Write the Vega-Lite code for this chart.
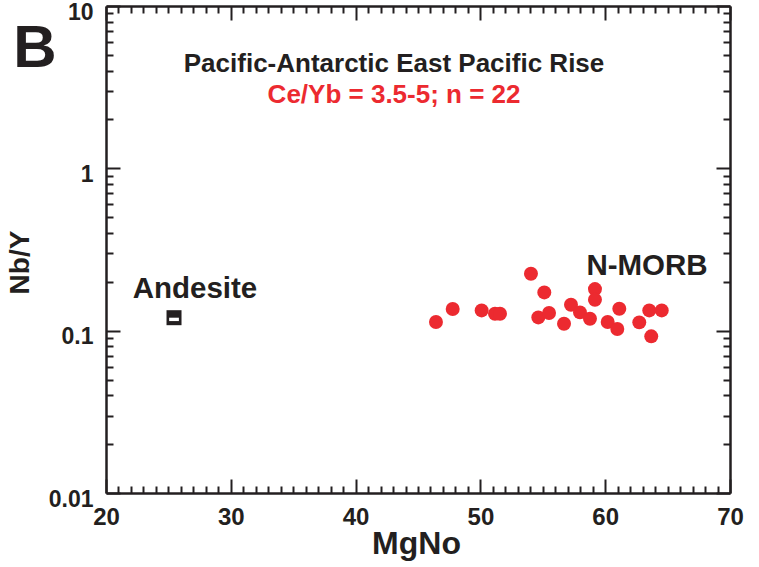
{
  "$schema": "https://vega.github.io/schema/vega-lite/v6.json",
  "width": 624,
  "height": 487,
  "autosize": {"type": "none"},
  "padding": {"left": 106, "top": 6, "right": 29, "bottom": 74},
  "background": "white",
  "config": {
    "view": {"stroke": null},
    "font": "Liberation Sans",
    "axis": {"domainColor": "#231f20", "tickColor": "#231f20", "labelColor": "#231f20", "titleColor": "#231f20", "grid": false, "labelFont": "Liberation Sans", "titleFont": "Liberation Sans"}
  },
  "datasets": {
    "morb": [
      {"MgNo": 46.44, "NbY": 0.1131},
      {"MgNo": 47.78, "NbY": 0.1360},
      {"MgNo": 50.10, "NbY": 0.1333},
      {"MgNo": 51.17, "NbY": 0.1272},
      {"MgNo": 51.57, "NbY": 0.1272},
      {"MgNo": 54.05, "NbY": 0.2240},
      {"MgNo": 55.12, "NbY": 0.1720},
      {"MgNo": 54.64, "NbY": 0.1207},
      {"MgNo": 55.50, "NbY": 0.1285},
      {"MgNo": 56.70, "NbY": 0.1104},
      {"MgNo": 57.26, "NbY": 0.1444},
      {"MgNo": 57.98, "NbY": 0.1296},
      {"MgNo": 58.78, "NbY": 0.1185},
      {"MgNo": 59.18, "NbY": 0.1804},
      {"MgNo": 59.18, "NbY": 0.1550},
      {"MgNo": 60.20, "NbY": 0.1131},
      {"MgNo": 60.97, "NbY": 0.1024},
      {"MgNo": 61.13, "NbY": 0.1365},
      {"MgNo": 62.73, "NbY": 0.1125},
      {"MgNo": 63.53, "NbY": 0.1333},
      {"MgNo": 63.69, "NbY": 0.0923},
      {"MgNo": 64.53, "NbY": 0.1333}
    ],
    "andesite": [{"MgNo": 25.45, "NbY": 0.1202}]
  },
  "resolve": {"axis": {"x": "independent", "y": "independent"}},
  "layer": [
    {
      "data": {"name": "morb"},
      "mark": {"type": "circle", "size": 195, "opacity": 1, "color": "#ec2a30"},
      "encoding": {
        "x": {"field": "MgNo", "type": "quantitative", "scale": {"domain": [20, 70], "nice": false, "zero": false},
          "axis": {"orient": "bottom", "values": [20, 30, 40, 50, 60, 70], "tickSize": -14, "tickWidth": 2, "domainWidth": 2.5, "labelPadding": 26, "labelFontSize": 24, "labelFontWeight": "bold", "labelFlush": false, "labelOverlap": false, "title": "MgNo", "titleFontSize": 32, "titleFontWeight": "bold", "titleY": 60, "titleX": 310, "titleBaseline": "alphabetic"}},
        "y": {"field": "NbY", "type": "quantitative", "scale": {"type": "log", "domain": [0.01, 10], "nice": false},
          "axis": {"orient": "left", "values": [0.01, 0.1, 1, 10], "labelExpr": "datum.value == 0.01 ? '0.01' : datum.value == 0.1 ? '0.1' : datum.value == 1 ? '1' : '10'", "tickSize": -14, "tickWidth": 2, "domainWidth": 2.5, "labelPadding": 27, "labelOffset": 6, "labelFontSize": 23, "labelFontWeight": "bold", "labelFlush": false, "labelOverlap": false, "title": "Nb/Y", "titleFontSize": 28, "titleFontWeight": "bold", "titleAngle": -90, "titleX": -86, "titleY": 256, "titleAlign": "center", "titleBaseline": "middle"}}
      }
    },
    {
      "data": {"name": "andesite"},
      "mark": {"type": "point", "shape": "square", "size": 225, "filled": true, "opacity": 1, "color": "#231f20"},
      "encoding": {
        "x": {"field": "MgNo", "type": "quantitative", "axis": null},
        "y": {"field": "NbY", "type": "quantitative", "axis": null}
      }
    },
    {
      "data": {"name": "andesite"},
      "mark": {"type": "point", "shape": "M-0.65,0.0H0.65V0.45H-0.65Z", "size": 225, "filled": true, "opacity": 1, "color": "white"},
      "encoding": {
        "x": {"field": "MgNo", "type": "quantitative", "axis": null},
        "y": {"field": "NbY", "type": "quantitative", "axis": null}
      }
    },
    {
      "data": {"name": "morb"},
      "mark": {"type": "point", "opacity": 0},
      "encoding": {
        "x": {"field": "MgNo", "type": "quantitative",
          "axis": {"orient": "bottom", "values": [21,22,23,24,25,26,27,28,29,31,32,33,34,35,36,37,38,39,41,42,43,44,45,46,47,48,49,51,52,53,54,55,56,57,58,59,61,62,63,64,65,66,67,68,69], "tickSize": -7, "tickWidth": 2, "labels": false, "domain": false, "title": null}},
        "y": {"field": "NbY", "type": "quantitative",
          "axis": {"orient": "left", "values": [0.02,0.03,0.04,0.05,0.06,0.07,0.08,0.09,0.2,0.3,0.4,0.5,0.6,0.7,0.8,0.9,2,3,4,5,6,7,8,9], "tickSize": -7, "tickWidth": 2, "labels": false, "domain": false, "title": null}}
      }
    },
    {
      "data": {"name": "morb"},
      "mark": {"type": "point", "opacity": 0},
      "encoding": {
        "x": {"field": "MgNo", "type": "quantitative",
          "axis": {"orient": "top", "values": [20, 30, 40, 50, 60, 70], "tickSize": -14, "tickWidth": 2, "domainWidth": 2.5, "labels": false, "title": null}},
        "y": {"field": "NbY", "type": "quantitative",
          "axis": {"orient": "right", "values": [0.01, 0.1, 1, 10], "tickSize": -14, "tickWidth": 2, "domainWidth": 2.5, "labels": false, "title": null}}
      }
    },
    {
      "data": {"name": "morb"},
      "mark": {"type": "point", "opacity": 0},
      "encoding": {
        "x": {"field": "MgNo", "type": "quantitative",
          "axis": {"orient": "top", "values": [21,22,23,24,25,26,27,28,29,31,32,33,34,35,36,37,38,39,41,42,43,44,45,46,47,48,49,51,52,53,54,55,56,57,58,59,61,62,63,64,65,66,67,68,69], "tickSize": -7, "tickWidth": 2, "labels": false, "domain": false, "title": null}},
        "y": {"field": "NbY", "type": "quantitative",
          "axis": {"orient": "right", "values": [0.02,0.03,0.04,0.05,0.06,0.07,0.08,0.09,0.2,0.3,0.4,0.5,0.6,0.7,0.8,0.9,2,3,4,5,6,7,8,9], "tickSize": -7, "tickWidth": 2, "labels": false, "domain": false, "title": null}}
      }
    },
    {
      "data": {"values": [{"text": "B", "MgNo": 14.31, "NbY": 4.195}]},
      "mark": {"type": "text", "fontSize": 60, "fontWeight": "bold", "align": "center", "baseline": "alphabetic", "color": "#231f20"},
      "encoding": {
        "x": {"field": "MgNo", "type": "quantitative", "axis": null},
        "y": {"field": "NbY", "type": "quantitative", "axis": null},
        "text": {"field": "text"}
      }
    },
    {
      "data": {"values": [{"text": "Pacific-Antarctic East Pacific Rise", "MgNo": 43.08, "NbY": 3.91}]},
      "mark": {"type": "text", "fontSize": 26, "fontWeight": "bold", "align": "center", "baseline": "alphabetic", "color": "#231f20"},
      "encoding": {
        "x": {"field": "MgNo", "type": "quantitative", "axis": null},
        "y": {"field": "NbY", "type": "quantitative", "axis": null},
        "text": {"field": "text"}
      }
    },
    {
      "data": {"values": [{"text": "Ce/Yb = 3.5-5; n = 22", "MgNo": 43.08, "NbY": 2.52}]},
      "mark": {"type": "text", "fontSize": 26, "fontWeight": "bold", "align": "center", "baseline": "alphabetic", "color": "#ec2a30"},
      "encoding": {
        "x": {"field": "MgNo", "type": "quantitative", "axis": null},
        "y": {"field": "NbY", "type": "quantitative", "axis": null},
        "text": {"field": "text"}
      }
    },
    {
      "data": {"values": [{"text": "Andesite", "MgNo": 27.13, "NbY": 0.1584}, {"text": "N-MORB", "MgNo": 63.35, "NbY": 0.2209}]},
      "mark": {"type": "text", "fontSize": 29.5, "fontWeight": "bold", "align": "center", "baseline": "alphabetic", "color": "#231f20"},
      "encoding": {
        "x": {"field": "MgNo", "type": "quantitative", "axis": null},
        "y": {"field": "NbY", "type": "quantitative", "axis": null},
        "text": {"field": "text"}
      }
    }
  ]
}
